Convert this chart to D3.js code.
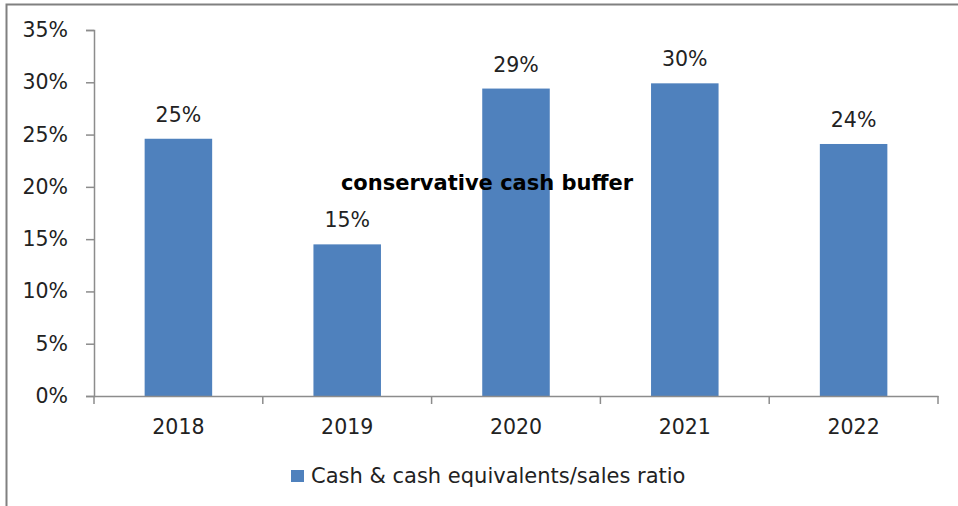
<!DOCTYPE html>
<html><head><meta charset="utf-8">
<script src="https://cdn.jsdelivr.net/npm/d3@7"></script>
<style>body{margin:0;background:#fff;}svg{display:block;}</style>
</head><body>
<svg id="c" width="958" height="506"></svg>
<script>
const categories = ["2018","2019","2020","2021","2022"];
const values = [24.6, 14.5, 29.4, 29.9, 24.1];
const yTicks = [0,5,10,15,20,25,30,35];
const seriesName = "Cash & cash equivalents/sales ratio";
const annotation = "conservative cash buffer";

const svg = d3.select("#c");
const font = "DejaVu Sans, sans-serif";
const fs = 20.5;
const textColor = "#222";
const axisColor = "#8c8c8c";
const barColor = "#4F81BD";

// outer border
svg.append("path").attr("d","M6.5,506 L6.5,4.5 L958,4.5").attr("fill","none").attr("stroke","#808080").attr("stroke-width",2);

const m = {l:94, r:938, t:30, b:396};
const x = d3.scaleBand().domain(categories).range([m.l, m.r]).paddingInner(0.6).paddingOuter(0.3);
const xOuter = d3.scaleBand().domain(categories).range([m.l, m.r]);
const y = d3.scaleLinear().domain([0,35]).range([m.b, m.t]);

// bars
svg.selectAll("rect.bar").data(values).join("rect").attr("class","bar")
  .attr("x",(d,i)=>x(categories[i])).attr("width",x.bandwidth())
  .attr("y",d=>y(d)).attr("height",d=>y(0)-y(d)).attr("fill",barColor);

// y axis
const yAxis = svg.append("g").attr("transform",`translate(${m.l},0)`)
  .call(d3.axisLeft(y).tickValues(yTicks).tickFormat(d=>d+"%").tickSize(8).tickPadding(18));
yAxis.select(".domain").attr("stroke",axisColor).attr("stroke-width",1.5);
yAxis.selectAll(".tick line").attr("stroke",axisColor).attr("stroke-width",1.5);
yAxis.selectAll(".tick text").attr("font-family",font).attr("font-size",fs).attr("fill",textColor);

// x axis
const xAxis = svg.append("g").attr("transform",`translate(0,${m.b})`)
  .call(d3.axisBottom(xOuter).tickSize(0).tickPadding(23));
xAxis.select(".domain").attr("stroke",axisColor).attr("stroke-width",1.5);
xAxis.selectAll(".tick text").attr("font-family",font).attr("font-size",fs).attr("fill",textColor);
// category boundary ticks
const bounds = categories.map(c=>xOuter(c)).concat([m.r]);
svg.append("g").selectAll("line").data(bounds).join("line")
  .attr("x1",d=>d).attr("x2",d=>d).attr("y1",m.b).attr("y2",m.b+8)
  .attr("stroke",axisColor).attr("stroke-width",1.5);

// value labels
svg.selectAll("text.lbl").data(values).join("text").attr("class","lbl")
  .attr("x",(d,i)=>x(categories[i])+x.bandwidth()/2).attr("y",d=>y(d)-17)
  .attr("text-anchor","middle").attr("font-family",font).attr("font-size",fs).attr("fill",textColor)
  .text(d=>Math.round(d)+"%");

// annotation
svg.append("text").attr("x",487).attr("y",190).attr("text-anchor","middle")
  .attr("font-family",font).attr("font-weight","bold").attr("font-size",21).attr("fill","#000")
  .text(annotation);

// legend
svg.append("rect").attr("x",291).attr("y",470).attr("width",13).attr("height",12).attr("fill",barColor);
svg.append("text").attr("x",311).attr("y",483).attr("font-family",font).attr("font-size",21).attr("fill",textColor).text(seriesName);
</script>
</body></html>
